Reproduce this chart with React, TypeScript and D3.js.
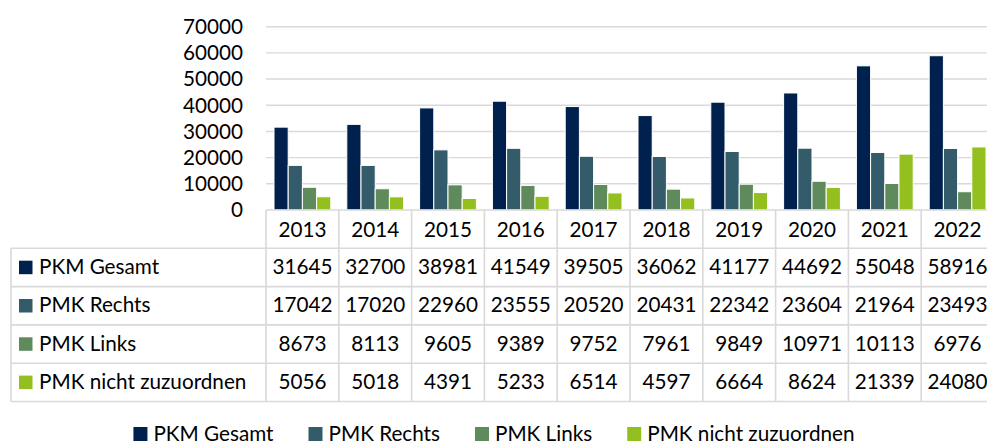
import React, { useMemo } from "react";
import * as d3 from "d3";

const years = ["2013", "2014", "2015", "2016", "2017", "2018", "2019", "2020", "2021", "2022"];
const seriesNames = ["PKM Gesamt", "PMK Rechts", "PMK Links", "PMK nicht zuzuordnen"];
const seriesColors = ["#00204E", "#335B69", "#5E8A5C", "#93C01F"];
const pkmGesamt = [31645, 32700, 38981, 41549, 39505, 36062, 41177, 44692, 55048, 58916];
const pmkRechts = [17042, 17020, 22960, 23555, 20520, 20431, 22342, 23604, 21964, 23493];
const pmkLinks = [8673, 8113, 9605, 9389, 9752, 7961, 9849, 10971, 10113, 6976];
const pmkNicht = [5056, 5018, 4391, 5233, 6514, 4597, 6664, 8624, 21339, 24080];
const yTicks = [0, 10000, 20000, 30000, 40000, 50000, 60000, 70000];

const seriesValues = [pkmGesamt, pmkRechts, pmkLinks, pmkNicht];

const W = 987;
const H = 445;
const FONT = "Lato, 'Open Sans', sans-serif";
const FS = 20.7;
const GRID = "#D9D9D9";

export default function App() {
  const plotLeft = 266;
  const catW = 72.8;
  const plotRight = plotLeft + catW * years.length;
  const yTop = 26.7;
  const yBottom = 210;
  const tableLeft = 11;
  const rowH = 38.3;
  const headerBottom = 248.3;

  const x = d3.scaleBand<string>().domain(years).range([plotLeft, plotRight]).paddingInner(0).paddingOuter(0);
  const x1 = d3.scaleBand<string>().domain(seriesNames).range([8, catW - 8]).padding(0);
  const y = d3.scaleLinear().domain([0, 70000]).range([yBottom, yTop]);

  const rowTops = seriesNames.map((_, i) => headerBottom + i * rowH);
  const tableBottom = headerBottom + seriesNames.length * rowH;

  const legendLayout = useMemo(() => {
    const ctx = document.createElement("canvas").getContext("2d");
    let widths = seriesNames.map((n) => n.length * FS * 0.5);
    if (ctx) {
      ctx.font = `${FS}px Lato`;
      widths = seriesNames.map((n) => ctx.measureText(n).width);
    }
    const sq = 14, gapSq = 6, gapItem = 35;
    const itemW = widths.map((w) => sq + gapSq + w);
    const total = d3.sum(itemW) + gapItem * (itemW.length - 1);
    let cx = 494 - total / 2;
    return itemW.map((w) => {
      const p = cx;
      cx += w + gapItem;
      return p;
    });
  }, []);

  const legendBase = 441;

  return (
    <svg width={W} height={H} style={{ position: "absolute", left: 0, top: 0, background: "#fff" }} fontFamily={FONT}>
      <rect x={0} y={0} width={W} height={H} fill="#fff" />
      {/* gridlines */}
      {yTicks.filter((t) => t > 0).map((t) => (
        <line key={t} x1={plotLeft} x2={plotRight} y1={y(t)} y2={y(t)} stroke={GRID} strokeWidth={1.4} />
      ))}
      {/* y labels */}
      {yTicks.map((t) => (
        <text key={t} x={243} y={y(t) + 7.4} textAnchor="end" fontSize={FS} fill="#000">
          {t}
        </text>
      ))}
      {/* bars */}
      {years.map((yr, i) => (
        <g key={yr} transform={`translate(${x(yr)},0)`}>
          {seriesNames.map((s, j) => (
            <rect
              key={s}
              x={x1(s)}
              y={y(seriesValues[j][i])}
              width={x1.bandwidth()}
              height={y(0) - y(seriesValues[j][i])}
              fill={seriesColors[j]}
              stroke="#fff"
              strokeWidth={1}
            />
          ))}
        </g>
      ))}
      {/* table lines */}
      <line x1={plotLeft} x2={plotRight} y1={yBottom} y2={yBottom} stroke={GRID} strokeWidth={1.6} />
      {[headerBottom, ...rowTops.slice(1), tableBottom].map((ry, k) => (
        <line key={k} x1={tableLeft} x2={plotRight} y1={ry} y2={ry} stroke={GRID} strokeWidth={1.6} />
      ))}
      <line x1={tableLeft} x2={tableLeft} y1={headerBottom} y2={tableBottom} stroke={GRID} strokeWidth={1.6} />
      {years.map((yr) => (
        <line key={yr} x1={x(yr)} x2={x(yr)} y1={yBottom} y2={tableBottom} stroke={GRID} strokeWidth={1.6} />
      ))}
      <line x1={plotRight} x2={plotRight} y1={yBottom} y2={tableBottom} stroke={GRID} strokeWidth={1.6} />
      {/* header years */}
      {years.map((yr) => (
        <text key={yr} x={(x(yr) as number) + catW / 2} y={yBottom + 26.5} textAnchor="middle" fontSize={FS} fill="#000">
          {yr}
        </text>
      ))}
      {/* rows */}
      {seriesNames.map((s, j) => (
        <g key={s}>
          <rect x={19} y={rowTops[j] + 12.4} width={13.5} height={13.5} fill={seriesColors[j]} />
          <text x={39} y={rowTops[j] + 25.8} fontSize={FS} fill="#000">
            {s}
          </text>
          {years.map((yr, i) => (
            <text key={yr} x={(x(yr) as number) + catW / 2} y={rowTops[j] + 25.8} textAnchor="middle" fontSize={FS} fill="#000">
              {seriesValues[j][i]}
            </text>
          ))}
        </g>
      ))}
      {/* legend */}
      {seriesNames.map((s, j) => (
        <g key={s} transform={`translate(${legendLayout[j]},0)`}>
          <rect x={0} y={legendBase - 14} width={14} height={14} fill={seriesColors[j]} />
          <text x={20} y={legendBase} fontSize={FS} fill="#000">
            {s}
          </text>
        </g>
      ))}
    </svg>
  );
}
